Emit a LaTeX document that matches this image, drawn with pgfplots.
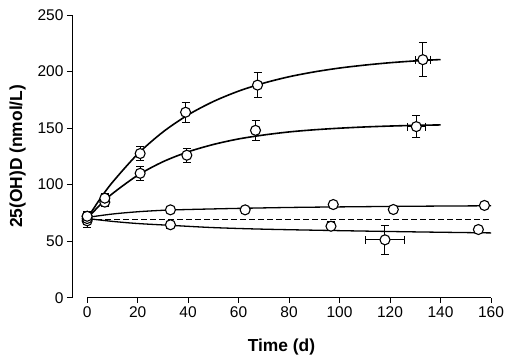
\documentclass[border=0pt]{standalone}
\usepackage{pgfplots}
\pgfplotsset{compat=1.18}
\usepackage{pgfplotstable}
\usepackage{fontspec}
\setmainfont{Liberation Sans}

\pgfplotstableread{
x y ex ey
0 72 0 4
7 88 0 4
21 127.5 0 6
39 164 0 9
67.5 188 0 11
133 210.5 3 15
}\topdata
\pgfplotstableread{
x y ex ey
0 70 0 4
7 84.5 0 4
21 110 0 6
39.5 126 0 6
66.7 148 0 9
130.4 151.3 3.5 10
}\secdata
\pgfplotstableread{
x y ex ey
0 72 0 3
33 77.7 0 2
62.6 77.7 0 2
97.5 82.4 0 3
121.3 78 0 2
157.4 81.6 0 3
}\flatdata
\pgfplotstableread{
x y ex ey
0 68 0 6
33 64.5 0 3
96.6 63.2 0 4
118 51.2 7.8 13
155 60.3 0 2
}\lowdata

\pgfplotsset{pts/.style={black, only marks, mark=*, mark size=5pt,
  mark options={fill=white, draw=black, line width=1.1pt},
  error bars/y dir=both, error bars/y explicit,
  error bars/x dir=both, error bars/x explicit,
  error bars/error bar style={line width=1pt, black},
  error bars/error mark options={rotate=90, mark size=4pt, line width=1pt, black}}}

\begin{document}
\begin{tikzpicture}
\useasboundingbox (-72pt,-59.3pt) rectangle (438pt,297.7pt);
\begin{axis}[
  at={(0,0)}, anchor=south west,
  scale only axis, width=419pt, height=282.7pt,
  xmin=-6, xmax=160, ymin=0, ymax=250,
  axis x line*=bottom, axis y line*=left,
  axis line style={draw=none},
  xtick={0,20,...,160}, ytick={0,50,...,250},
  tick align=outside, major tick length=5pt,
  tick style={black, line width=0.8pt},
  tick label style={font=\fontsize{15.5}{15.5}\selectfont},
  /pgf/number format/assume math mode=true,
  clip=false,
  xlabel={Time (d)}, ylabel={25(OH)D (nmol/L)},
  label style={font=\bfseries\fontsize{17.4}{17.4}\selectfont},
  xlabel style={at={(axis description cs:0.5,0)}, anchor=base, yshift=-54pt},
  ylabel style={at={(axis description cs:-0.1193,0.5)}, rotate=0, anchor=base},
]
\draw[line width=0.9pt] (axis cs:-6,0) -- (axis cs:-6,250);
\draw[line width=0.9pt] (axis cs:0,0) -- (axis cs:160,0);
\addplot[black, line width=0.6pt, dash pattern=on 6pt off 3pt] coordinates {(0,69.4) (160,69.4)};
\addplot[black, line width=1.6pt, smooth] coordinates {
(0,70) (5,87) (10,102) (20,127) (30,146.5) (40,161.7) (50,173.5) (60,182.7) (70,189.8) (80,195.4) (90,199.7) (100,203.1) (110,205.7) (120,207.8) (130,209.4) (140,210.6)};
\addplot[black, line width=1.6pt, smooth] coordinates {
(0,70) (5,81.8) (10,92) (20,108.2) (30,120.2) (40,129) (50,135.5) (60,140.4) (70,143.9) (80,146.6) (90,148.5) (100,149.9) (110,151) (120,151.8) (130,152.4) (140,152.8)};
\addplot[black, line width=1.3pt, smooth] coordinates {
(0,71) (10,74) (20,76) (30,77.3) (40,78) (60,79) (80,79.8) (100,80.3) (130,80.9) (160,81.3)};
\addplot[black, line width=1.3pt, smooth] coordinates {
(0,70) (10,67.5) (20,65.6) (33,64) (50,62) (70,60.6) (100,59.3) (130,58.2) (160,57.3)};
\addplot[pts] table[x=x, y=y, x error=ex, y error=ey] {\lowdata};
\addplot[pts] table[x=x, y=y, x error=ex, y error=ey] {\flatdata};
\addplot[pts] table[x=x, y=y, x error=ex, y error=ey] {\secdata};
\addplot[pts] table[x=x, y=y, x error=ex, y error=ey] {\topdata};
\end{axis}
\end{tikzpicture}
\end{document}
